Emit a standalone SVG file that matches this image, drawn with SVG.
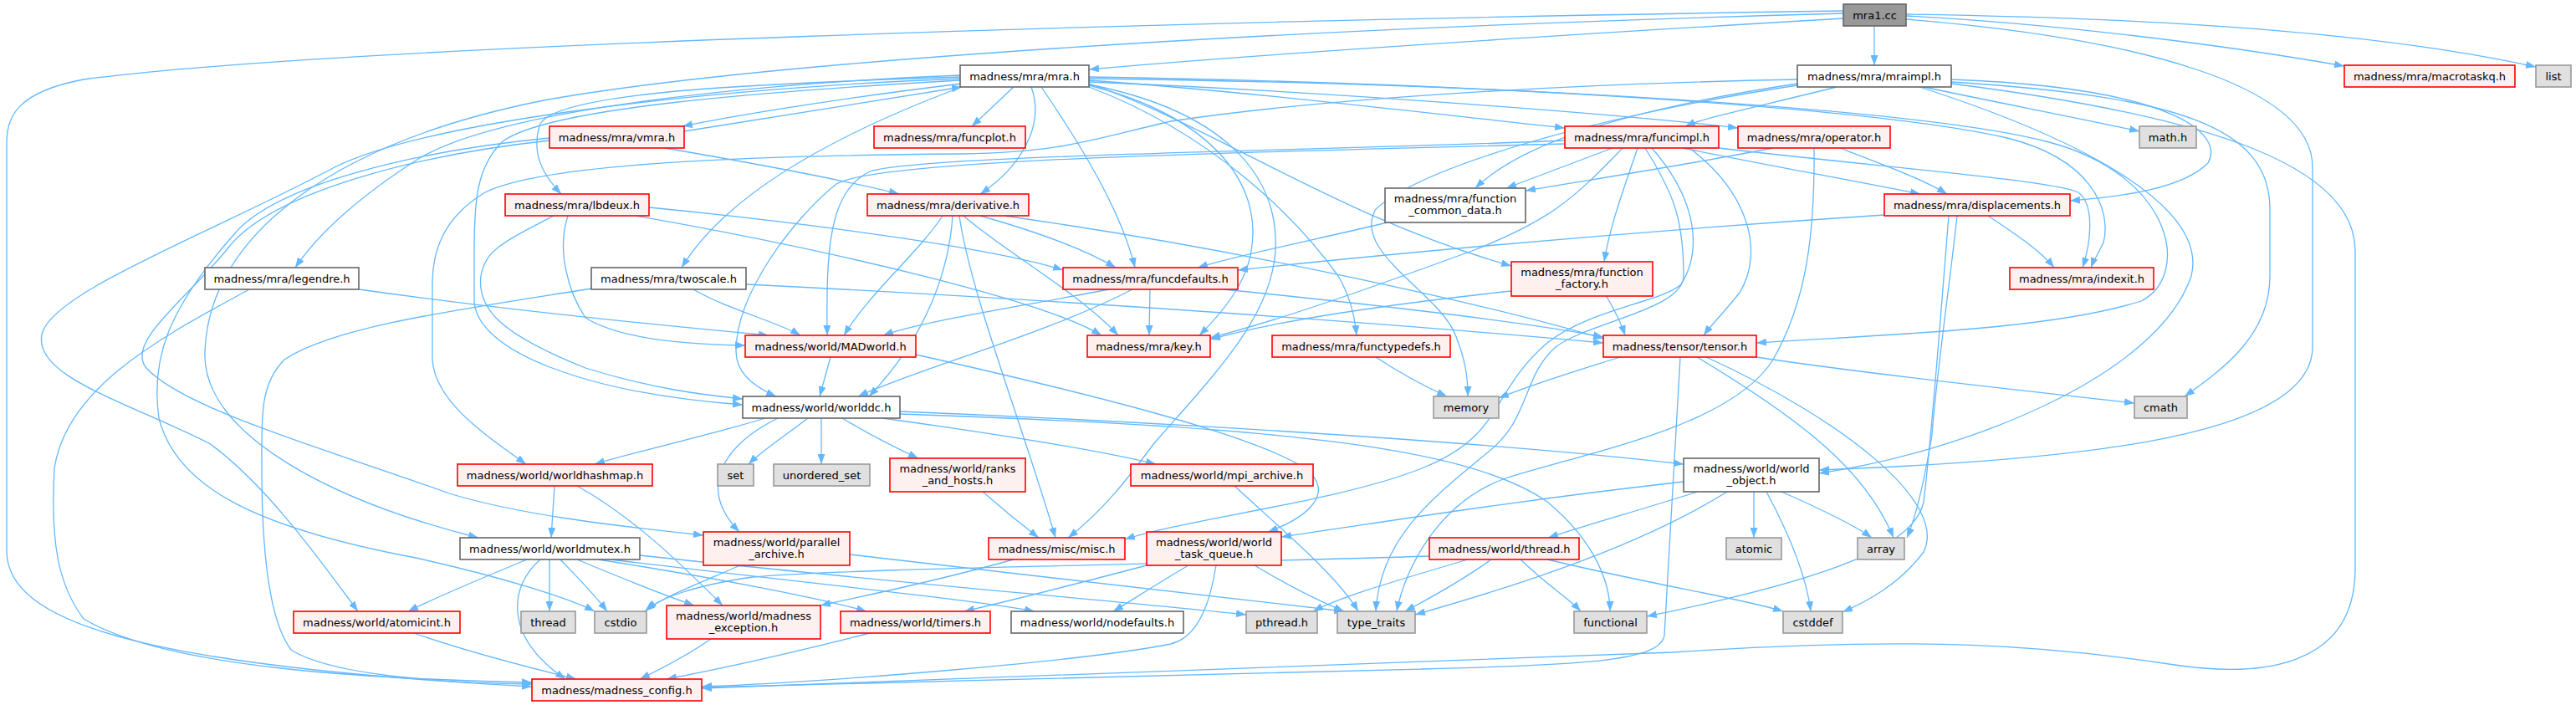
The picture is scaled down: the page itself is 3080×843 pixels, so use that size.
<svg xmlns="http://www.w3.org/2000/svg" width="3080" height="843" viewBox="0 0 3080 843">
<style>
.e{fill:none;stroke:#63b8ff;stroke-width:1.3}
.n rect{stroke-width:1.6}
.r rect{fill:#fff0f0;stroke:#ff0000}
.w rect{fill:#ffffff;stroke:#666666}
.g rect{fill:#e0e0e0;stroke:#999999}
.k rect{fill:#999999;stroke:#666666}
text{font-family:"DejaVu Sans","Liberation Sans",sans-serif;font-size:13px;text-anchor:middle;fill:#000}
</style>
<defs>
<marker id="a" markerUnits="userSpaceOnUse" markerWidth="12" markerHeight="9" refX="12" refY="4.5" orient="auto"><path d="M0,0 L12,4.5 L0,9 z" fill="#63b8ff"/></marker>
</defs>
<rect width="3080" height="843" fill="#fff"/>
<g id="edges" marker-end="url(#a)" class="e">
<path d="M2204,22 C1900,40 1500,65 1302,83"/>
<path d="M2241,31 L2241,78"/>
<path d="M2279,19 C2450,28 2650,52 2803,79"/>
<path d="M2279,17 C2600,22 2850,40 3032,80"/>
<path d="M2279,23 C2550,45 2765,100 2765,200 L2765,415 C2765,520 2500,550 2175,562"/>
<path d="M2204,16 C1500,35 900,75 650,120 C400,170 250,280 245,420 C240,520 400,600 572,643"/>
<path d="M2204,13 C1400,25 400,55 100,95 C20,110 8,140 8,170 L8,660 C10,740 150,795 636,821"/>
<path d="M1150,100 C1000,118 880,138 816,151"/>
<path d="M818,157 C950,135 1080,115 1150,104"/>
<path d="M1212,104 L1162,151"/>
<path d="M1302,96 C1500,110 1750,140 1871,153"/>
<path d="M1302,98 C1600,110 1950,138 2078,153"/>
<path d="M1148,92 C900,100 660,110 645,150 C635,185 650,210 671,232"/>
<path d="M1233,104 C1250,150 1220,200 1172,232"/>
<path d="M1148,90 C900,100 600,130 500,190 C430,235 380,280 353,320"/>
<path d="M1150,104 C1000,160 870,230 815,320"/>
<path d="M1245,104 C1290,170 1340,250 1357,320"/>
<path d="M1302,100 C1450,150 1600,260 1807,318"/>
<path d="M1302,102 C1450,140 1510,220 1496,300 C1490,340 1460,375 1434,401"/>
<path d="M1302,104 C1450,160 1550,260 1600,330 C1615,355 1620,380 1622,401"/>
<path d="M1302,94 C1800,100 2300,130 2450,170 C2600,210 2620,330 2560,360 C2450,395 2250,400 2100,410"/>
<path d="M1148,96 C900,110 650,130 600,170 C570,200 567,240 567,300 L567,360 C570,420 700,470 888,484"/>
<path d="M1148,94 C800,108 500,150 400,200 C250,280 60,350 50,400 C40,450 150,480 250,530 C320,580 390,680 428,731"/>
<path d="M1302,92 C1800,100 2250,130 2400,165 C2500,190 2525,250 2515,290 C2508,305 2503,312 2500,320"/>
<path d="M1302,101 C1450,130 1530,200 1525,300 C1520,380 1450,450 1380,530 C1350,570 1320,610 1277,643"/>
<path d="M2196,104 C2100,128 2040,140 2015,151"/>
<path d="M2149,100 C1950,130 1820,170 1764,225"/>
<path d="M2333,95 C2600,105 2660,160 2640,195 C2610,225 2540,235 2475,240"/>
<path d="M2300,104 C2400,125 2480,140 2558,157"/>
<path d="M2333,98 C2600,115 2714,150 2714,250 L2714,330 C2714,400 2660,440 2612,474"/>
<path d="M2333,100 C2650,140 2816,200 2816,300 L2816,680 C2816,800 2700,810 2600,795 C2450,772 2300,760 2000,780 C1500,800 1100,815 839,823"/>
<path d="M2149,102 C1900,140 1700,200 1645,250 C1615,300 1720,350 1740,400 C1752,430 1755,450 1755,474"/>
<path d="M2295,104 C2500,170 2640,250 2620,330 C2580,450 2350,540 2175,566"/>
<path d="M2149,95 C1900,100 1600,115 1400,145 C1300,168 1270,182 1150,184 C900,186 650,195 580,230 C530,260 517,300 517,340 L517,430 C520,480 580,520 629,555"/>
<path d="M795,177 C900,195 1000,213 1075,232"/>
<path d="M657,168 C500,185 320,230 270,300 C220,360 150,410 175,440 C220,490 400,540 537,590 C620,615 720,627 841,640"/>
<path d="M657,165 C500,180 330,220 280,280 C200,370 180,430 190,500 C210,580 300,630 497,667 C600,690 680,715 711,731"/>
<path d="M1928,177 L1801,225"/>
<path d="M2012,177 C2100,195 2200,213 2296,232"/>
<path d="M2055,177 C2250,200 2450,215 2485,230 C2505,245 2500,290 2490,320"/>
<path d="M1958,177 C1940,230 1925,270 1918,313"/>
<path d="M2020,177 C2090,230 2110,300 2080,350 C2060,375 2045,390 2037,401"/>
<path d="M1967,177 C2000,230 2013,260 2013,330 C2013,370 1900,385 1860,415 C1820,450 1830,500 1780,540 C1720,590 1650,640 1645,731"/>
<path d="M1975,177 C2030,240 2035,300 2010,340 C1990,360 1900,370 1850,410 C1780,470 1800,520 1700,560 C1600,600 1420,620 1345,645"/>
<path d="M1871,168 C1600,180 1100,185 1040,205 C990,230 988,300 989,401"/>
<path d="M1871,172 C1500,182 1050,190 1000,220 C950,260 880,350 880,420 C880,445 900,462 928,474"/>
<path d="M1940,177 C1880,240 1850,265 1760,300 C1650,340 1540,380 1447,404"/>
<path d="M2120,177 C2000,200 1900,215 1824,228"/>
<path d="M2200,177 C2260,200 2300,215 2328,232"/>
<path d="M2169,177 C2170,280 2160,360 2120,430 C2070,510 1900,540 1800,572 C1720,600 1680,680 1670,731"/>
<path d="M776,248 C1000,270 1200,300 1271,323"/>
<path d="M760,258 C1000,300 1250,360 1317,401"/>
<path d="M679,258 C665,300 680,350 700,380 C740,405 820,412 891,413"/>
<path d="M662,258 C600,290 580,300 575,330 C570,370 600,400 700,440 C780,465 840,472 888,477"/>
<path d="M1127,258 C1100,300 1040,350 1009,401"/>
<path d="M1139,258 C1135,320 1110,400 1039,474"/>
<path d="M1147,258 C1160,350 1220,500 1262,643"/>
<path d="M1152,258 C1200,300 1290,350 1337,401"/>
<path d="M1172,258 C1250,280 1300,300 1334,320"/>
<path d="M1200,258 C1500,300 1800,370 1917,405"/>
<path d="M1659,266 C1580,285 1480,305 1432,320"/>
<path d="M2377,258 C2410,280 2440,300 2456,320"/>
<path d="M2253,257 C1900,280 1600,310 1480,323"/>
<path d="M2340,258 C2330,350 2315,450 2310,520 C2300,580 2290,620 2280,643"/>
<path d="M2330,258 C2320,380 2310,520 2300,600 C2290,650 2200,690 1969,737"/>
<path d="M429,346 C600,370 800,390 919,401"/>
<path d="M298,346 C200,400 80,460 65,560 C60,650 70,700 100,740 C200,800 450,812 636,816"/>
<path d="M829,346 C870,370 930,385 957,401"/>
<path d="M892,340 C1300,360 1700,390 1917,410"/>
<path d="M707,345 C550,370 400,390 340,430 C310,460 313,500 313,560 C313,650 320,740 348,777 C400,810 550,817 636,818"/>
<path d="M1326,346 C1200,370 1100,385 1056,401"/>
<path d="M1375,346 L1374,401"/>
<path d="M1354,346 C1250,400 1100,440 1026,474"/>
<path d="M1463,346 C1700,370 1850,390 1917,403"/>
<path d="M1807,348 C1650,365 1520,385 1447,406"/>
<path d="M1920,353 C1930,370 1938,385 1943,401"/>
<path d="M993,427 L980,474"/>
<path d="M1095,424 C1300,470 1500,520 1560,560 C1600,590 1560,620 1516,636"/>
<path d="M1645,427 C1680,450 1710,465 1730,474"/>
<path d="M1937,427 C1880,445 1830,460 1792,476"/>
<path d="M2100,427 C2250,450 2450,470 2552,482"/>
<path d="M2009,427 C2005,500 2000,600 1990,760 C1985,790 1900,795 1700,800 C1400,808 1100,818 839,822"/>
<path d="M2029,427 C2150,500 2230,560 2264,643"/>
<path d="M2040,427 C2200,500 2330,600 2300,660 C2270,700 2230,720 2203,732"/>
<path d="M915,500 C850,520 760,540 711,555"/>
<path d="M966,500 C940,520 910,540 895,555"/>
<path d="M982,500 L982,555"/>
<path d="M1007,500 C1040,520 1070,535 1098,548"/>
<path d="M1055,500 C1200,520 1320,540 1382,555"/>
<path d="M1076,492 C1400,505 1800,530 2013,555"/>
<path d="M1076,495 C1500,510 1750,530 1850,600 C1910,650 1925,700 1925,731"/>
<path d="M930,500 C870,530 830,580 884,636"/>
<path d="M663,581 L659,643"/>
<path d="M690,581 C760,620 820,680 864,724"/>
<path d="M1175,588 C1200,610 1225,630 1242,643"/>
<path d="M1476,581 C1540,640 1600,690 1624,731"/>
<path d="M2030,588 C1960,610 1890,630 1851,643"/>
<path d="M2097,588 L2097,643"/>
<path d="M2130,588 C2180,610 2220,630 2238,643"/>
<path d="M2112,588 C2140,640 2160,690 2165,731"/>
<path d="M2065,588 C1950,660 1780,710 1692,735"/>
<path d="M2013,576 C1800,600 1650,625 1532,642"/>
<path d="M630,669 C580,690 530,710 488,731"/>
<path d="M646,669 C610,700 600,760 676,812"/>
<path d="M657,669 L657,731"/>
<path d="M670,669 C690,690 710,710 726,731"/>
<path d="M690,669 C740,690 790,710 830,724"/>
<path d="M715,669 C850,690 980,715 1036,731"/>
<path d="M730,669 C900,690 1150,715 1237,731"/>
<path d="M765,664 C1000,690 1350,720 1490,735"/>
<path d="M885,676 C830,700 790,715 771,731"/>
<path d="M1016,663 C1250,690 1500,720 1607,731"/>
<path d="M1212,669 C1100,700 1020,715 981,724"/>
<path d="M1371,676 C1280,700 1200,720 1153,731"/>
<path d="M1421,676 C1380,700 1350,720 1331,731"/>
<path d="M1454,676 C1450,700 1440,760 1400,770 C1300,790 1000,815 839,821"/>
<path d="M1500,676 C1540,700 1580,720 1607,731"/>
<path d="M1755,669 C1650,700 1600,715 1570,731"/>
<path d="M1783,669 C1740,700 1700,720 1680,731"/>
<path d="M1818,669 C1850,700 1875,715 1890,731"/>
<path d="M1850,669 C1980,700 2080,715 2132,731"/>
<path d="M1709,665 C1400,675 1000,680 900,690 C830,700 790,715 773,729"/>
<path d="M495,757 C560,780 640,800 689,812"/>
<path d="M850,764 C820,785 790,800 765,812"/>
<path d="M1040,757 C950,780 860,800 797,812"/>
</g>
<g id="n_mra1" class="n k"><rect x="2204" y="5" width="75" height="26"/><text x="2241.5" y="23">mra1.cc</text></g>
<g id="n_mra" class="n w"><rect x="1148" y="78" width="154" height="26"/><text x="1225" y="96">madness/mra/mra.h</text></g>
<g id="n_mraimpl" class="n w"><rect x="2149" y="78" width="184" height="26"/><text x="2241" y="96">madness/mra/mraimpl.h</text></g>
<g id="n_macrotaskq" class="n r"><rect x="2803" y="78" width="204" height="26"/><text x="2905" y="96">madness/mra/macrotaskq.h</text></g>
<g id="n_list" class="n g"><rect x="3032" y="78" width="42" height="26"/><text x="3053" y="96">list</text></g>
<g id="n_vmra" class="n r"><rect x="657" y="151" width="161" height="26"/><text x="737.5" y="169">madness/mra/vmra.h</text></g>
<g id="n_funcplot" class="n r"><rect x="1045" y="151" width="181" height="26"/><text x="1135.5" y="169">madness/mra/funcplot.h</text></g>
<g id="n_funcimpl" class="n r"><rect x="1871" y="151" width="184" height="26"/><text x="1963" y="169">madness/mra/funcimpl.h</text></g>
<g id="n_operator" class="n r"><rect x="2078" y="151" width="182" height="26"/><text x="2169" y="169">madness/mra/operator.h</text></g>
<g id="n_math" class="n g"><rect x="2558" y="151" width="68" height="26"/><text x="2592" y="169">math.h</text></g>
<g id="n_lbdeux" class="n r"><rect x="604" y="232" width="172" height="26"/><text x="690" y="250">madness/mra/lbdeux.h</text></g>
<g id="n_derivative" class="n r"><rect x="1037" y="232" width="193" height="26"/><text x="1133.5" y="250">madness/mra/derivative.h</text></g>
<g id="n_fcd" class="n w"><rect x="1656" y="225" width="168" height="41"/><text x="1740" y="242">madness/mra/function</text><text x="1740" y="256">_common_data.h</text></g>
<g id="n_displacements" class="n r"><rect x="2253" y="232" width="222" height="26"/><text x="2364" y="250">madness/mra/displacements.h</text></g>
<g id="n_legendre" class="n w"><rect x="245" y="320" width="184" height="26"/><text x="337" y="338">madness/mra/legendre.h</text></g>
<g id="n_twoscale" class="n w"><rect x="707" y="320" width="185" height="26"/><text x="799.5" y="338">madness/mra/twoscale.h</text></g>
<g id="n_funcdefaults" class="n r"><rect x="1271" y="320" width="209" height="26"/><text x="1375.5" y="338">madness/mra/funcdefaults.h</text></g>
<g id="n_function_factory" class="n r"><rect x="1807" y="313" width="169" height="41"/><text x="1891.5" y="330">madness/mra/function</text><text x="1891.5" y="344">_factory.h</text></g>
<g id="n_indexit" class="n r"><rect x="2403" y="320" width="172" height="26"/><text x="2489" y="338">madness/mra/indexit.h</text></g>
<g id="n_MADworld" class="n r"><rect x="891" y="401" width="204" height="26"/><text x="993" y="419">madness/world/MADworld.h</text></g>
<g id="n_key" class="n r"><rect x="1300" y="401" width="147" height="26"/><text x="1373.5" y="419">madness/mra/key.h</text></g>
<g id="n_functypedefs" class="n r"><rect x="1521" y="401" width="213" height="26"/><text x="1627.5" y="419">madness/mra/functypedefs.h</text></g>
<g id="n_tensor" class="n r"><rect x="1917" y="401" width="183" height="26"/><text x="2008.5" y="419">madness/tensor/tensor.h</text></g>
<g id="n_worlddc" class="n w"><rect x="888" y="474" width="188" height="26"/><text x="982" y="492">madness/world/worlddc.h</text></g>
<g id="n_memory" class="n g"><rect x="1714" y="474" width="78" height="26"/><text x="1753" y="492">memory</text></g>
<g id="n_cmath" class="n g"><rect x="2552" y="474" width="63" height="26"/><text x="2583.5" y="492">cmath</text></g>
<g id="n_worldhashmap" class="n r"><rect x="547" y="555" width="233" height="26"/><text x="663.5" y="573">madness/world/worldhashmap.h</text></g>
<g id="n_set" class="n g"><rect x="858" y="555" width="43" height="26"/><text x="879.5" y="573">set</text></g>
<g id="n_unordered_set" class="n g"><rect x="925" y="555" width="115" height="26"/><text x="982.5" y="573">unordered_set</text></g>
<g id="n_ranks" class="n r"><rect x="1064" y="548" width="162" height="40"/><text x="1145" y="565">madness/world/ranks</text><text x="1145" y="579">_and_hosts.h</text></g>
<g id="n_mpi_archive" class="n r"><rect x="1352" y="555" width="218" height="26"/><text x="1461" y="573">madness/world/mpi_archive.h</text></g>
<g id="n_world_object" class="n w"><rect x="2013" y="548" width="162" height="40"/><text x="2094" y="565">madness/world/world</text><text x="2094" y="579">_object.h</text></g>
<g id="n_worldmutex" class="n w"><rect x="550" y="643" width="215" height="26"/><text x="657.5" y="661">madness/world/worldmutex.h</text></g>
<g id="n_parallel_archive" class="n r"><rect x="841" y="636" width="175" height="40"/><text x="928.5" y="653">madness/world/parallel</text><text x="928.5" y="667">_archive.h</text></g>
<g id="n_misc" class="n r"><rect x="1182" y="643" width="163" height="26"/><text x="1263.5" y="661">madness/misc/misc.h</text></g>
<g id="n_world_task_queue" class="n r"><rect x="1371" y="636" width="161" height="40"/><text x="1451.5" y="653">madness/world/world</text><text x="1451.5" y="667">_task_queue.h</text></g>
<g id="n_thread_h" class="n r"><rect x="1709" y="643" width="179" height="26"/><text x="1798.5" y="661">madness/world/thread.h</text></g>
<g id="n_atomic" class="n g"><rect x="2064" y="643" width="66" height="26"/><text x="2097" y="661">atomic</text></g>
<g id="n_array" class="n g"><rect x="2221" y="643" width="56" height="26"/><text x="2249" y="661">array</text></g>
<g id="n_atomicint" class="n r"><rect x="351" y="731" width="199" height="26"/><text x="450.5" y="749">madness/world/atomicint.h</text></g>
<g id="n_thread" class="n g"><rect x="623" y="731" width="65" height="26"/><text x="655.5" y="749">thread</text></g>
<g id="n_cstdio" class="n g"><rect x="711" y="731" width="62" height="26"/><text x="742" y="749">cstdio</text></g>
<g id="n_madness_exception" class="n r"><rect x="797" y="724" width="184" height="40"/><text x="889" y="741">madness/world/madness</text><text x="889" y="755">_exception.h</text></g>
<g id="n_timers" class="n r"><rect x="1005" y="731" width="179" height="26"/><text x="1094.5" y="749">madness/world/timers.h</text></g>
<g id="n_nodefaults" class="n w"><rect x="1209" y="731" width="206" height="26"/><text x="1312" y="749">madness/world/nodefaults.h</text></g>
<g id="n_pthread" class="n g"><rect x="1490" y="731" width="85" height="26"/><text x="1532.5" y="749">pthread.h</text></g>
<g id="n_type_traits" class="n g"><rect x="1599" y="731" width="93" height="26"/><text x="1645.5" y="749">type_traits</text></g>
<g id="n_functional" class="n g"><rect x="1882" y="731" width="87" height="26"/><text x="1925.5" y="749">functional</text></g>
<g id="n_cstddef" class="n g"><rect x="2132" y="731" width="71" height="26"/><text x="2167.5" y="749">cstddef</text></g>
<g id="n_config" class="n r"><rect x="636" y="812" width="203" height="26"/><text x="737.5" y="830">madness/madness_config.h</text></g>
</svg>
